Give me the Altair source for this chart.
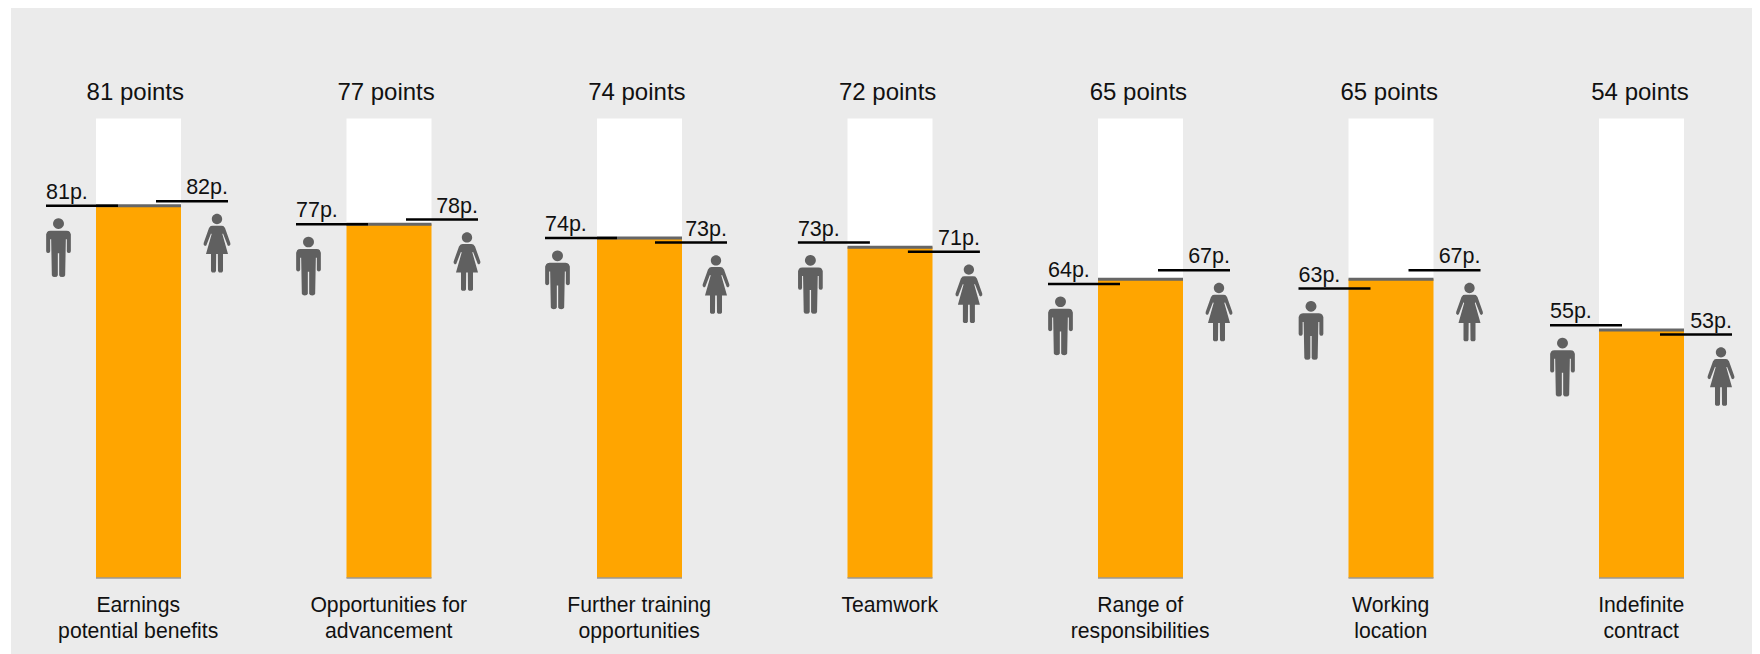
import altair as alt
import pandas as pd

categories = ["Earnings\npotential benefits", "Opportunities for\nadvancement", "Further training\nopportunities",
              "Teamwork", "Range of\nresponsibilities", "Working\nlocation", "Indefinite\ncontract"]
overall = [81, 77, 74, 72, 65, 65, 54]
men = [81, 77, 74, 73, 64, 63, 55]
women = [82, 78, 73, 71, 67, 67, 53]
top_value = 100
base_value = 0

W, H = 1741, 646
STEP = 250.5          # pixels between category centres
CENTRE0 = 127.5       # first centre inside the chart
GROUP_NUDGE = [0, -0.5, -2, 0.4, 0, 0, 1]       # layout: side labels of each group, in pixels
TITLE_SHIFT = -3.2    # layout: titles sit slightly left of the bars
TITLE_DRIFT = 0.28


def px(p):
    return p / STEP


def circle(cy, r):
    return [("M", 0, cy - r), ("A", r, cy, 1), ("A", r, cy, -1)]


def icon(cmds, half=87.5):
    """Turn an icon outline (drawn about x=0, y from 0..175) into a unit-space SVG path."""
    out = []
    for c in cmds:
        if c[0] == "A":
            r, cy, side = c[1], c[2], c[3]
            rr = r / half
            ey = (cy + side * r - half) / half
            out.append(f"A{rr:.4f} {rr:.4f} 0 1 1 0 {ey:.4f}")
        elif c[0] == "Z":
            out.append("Z")
        else:
            out.append(f"{c[0]}{c[1] / half:.4f} {(c[2] - half) / half:.4f}")
    return " ".join(out)


def mirror(points):
    return points + [(-x, y) for x, y in reversed(points)]


def outline(pts):
    return [("M", *pts[0])] + [("L", *p) for p in pts[1:]] + [("Z",)]


man_half = [(0, 36), (24, 36), (30, 37), (34, 40), (37, 47), (37, 98), (35, 102), (31, 103), (27, 102), (25, 98),
            (25, 62), (22, 62), (20, 170), (17, 174), (11, 175), (5, 174), (2, 170), (2, 104), (0, 104)]
woman_half = [(0, 35), (13, 35), (19, 36), (24, 42), (40, 87), (40, 92), (36, 96), (32, 94), (18, 58), (16, 60),
              (33, 120), (18, 120), (18, 171), (15, 175), (6, 175), (3, 171), (2.5, 120), (0, 120)]

man_path = icon(circle(15, 16) + outline(mirror(man_half)))
woman_path = icon(circle(15, 15.5) + outline(mirror(woman_half)))

df = pd.DataFrame({"i": range(len(categories)), "category": categories, "overall": overall,
                   "men": men, "women": women, "nudge": GROUP_NUDGE})
df["top"] = top_value
df["base"] = base_value
df["title"] = [f"{v} points" for v in overall]
df["men_label"] = [f"{v}p." for v in men]
df["women_label"] = [f"{v}p." for v in women]
df["title_x"] = df.i + px(TITLE_SHIFT + TITLE_DRIFT * df.i)
df["cat_x"] = df.i + px(-0.3)
df["bar_l"] = df.i + px(-42.5)
df["bar_r"] = df.i + px(42.5)
df["m_l"] = df.i + px(-92.5 + df.nudge)
df["m_r"] = df.i + px(-20.5 + df.nudge)
df["f_l"] = df.i + px(17.5 + df.nudge)
df["f_r"] = df.i + px(89.5 + df.nudge)
df["m_icon"] = df.i + px(-80 + df.nudge)
df["f_icon"] = df.i + px(78.5 + df.nudge)

xs = alt.Scale(domain=[-CENTRE0 / STEP, (W - CENTRE0) / STEP], nice=False, zero=False)
PX_PER_UNIT = 4.596
y_zero = 570.1
ys = alt.Scale(domain=[-(H - y_zero) / PX_PER_UNIT, y_zero / PX_PER_UNIT], nice=False, zero=False)


def X(f):
    return alt.X(f"{f}:Q", scale=xs, axis=None)


def Y(f):
    return alt.Y(f"{f}:Q", scale=ys, axis=None)


base = alt.Chart(df)
white = base.mark_rect(color="#FFFFFF").encode(x=X("bar_l"), x2="bar_r:Q", y=Y("overall"), y2="top:Q")
orange = base.mark_rect(color="#FFA500").encode(x=X("bar_l"), x2="bar_r:Q", y=Y("base"), y2="overall:Q")
cap = base.mark_rule(color="#666666", strokeWidth=3).encode(x=X("bar_l"), x2="bar_r:Q", y=Y("overall"))
floor = base.mark_rule(color="#999999", strokeWidth=1.5).encode(x=X("bar_l"), x2="bar_r:Q", y=Y("base"))
m_rule = base.mark_rule(color="#000000", strokeWidth=2.5).encode(x=X("m_l"), x2="m_r:Q", y=Y("men"))
f_rule = base.mark_rule(color="#000000", strokeWidth=2.5).encode(x=X("f_l"), x2="f_r:Q", y=Y("women"))

FONT = "Liberation Sans"
INK = "#111111"
title = base.mark_text(font=FONT, fontSize=24, color=INK, align="center", baseline="alphabetic", dy=-18.5).encode(
    x=X("title_x"), y=Y("top"), text="title:N")
m_text = base.mark_text(font=FONT, fontSize=21.5, color=INK, align="left", baseline="alphabetic", dy=-7).encode(
    x=X("m_l"), y=Y("men"), text="men_label:N")
f_text = base.mark_text(font=FONT, fontSize=21.5, color=INK, align="right", baseline="alphabetic", dy=-7).encode(
    x=X("f_r"), y=Y("women"), text="women_label:N")
cat_text = base.mark_text(font=FONT, fontSize=21.2, color=INK, align="center", baseline="alphabetic", dy=34,
                          lineBreak="\n", lineHeight=26).encode(
    x=X("cat_x"), y=Y("base"), text="category:N")

m_icon = base.mark_point(shape=man_path, size=3410, filled=True, color="#606060", opacity=1, strokeWidth=0,
                         yOffset=42).encode(x=X("m_icon"), y=Y("men"))
f_icon = base.mark_point(shape=woman_path, size=3410, filled=True, color="#606060", opacity=1, strokeWidth=0,
                         yOffset=42).encode(x=X("f_icon"), y=Y("women"))

chart = (
    alt.layer(white, orange, cap, floor, m_rule, f_rule, m_icon, f_icon, title, m_text, f_text, cat_text)
    .properties(width=W, height=H, padding={"left": 3, "top": 0, "right": 0, "bottom": 0}, background="#FFFFFF")
    .configure_view(fill="#EBEBEB", strokeWidth=0)
)

chart.save("out.html", embed_options={"renderer": "svg", "actions": False})
